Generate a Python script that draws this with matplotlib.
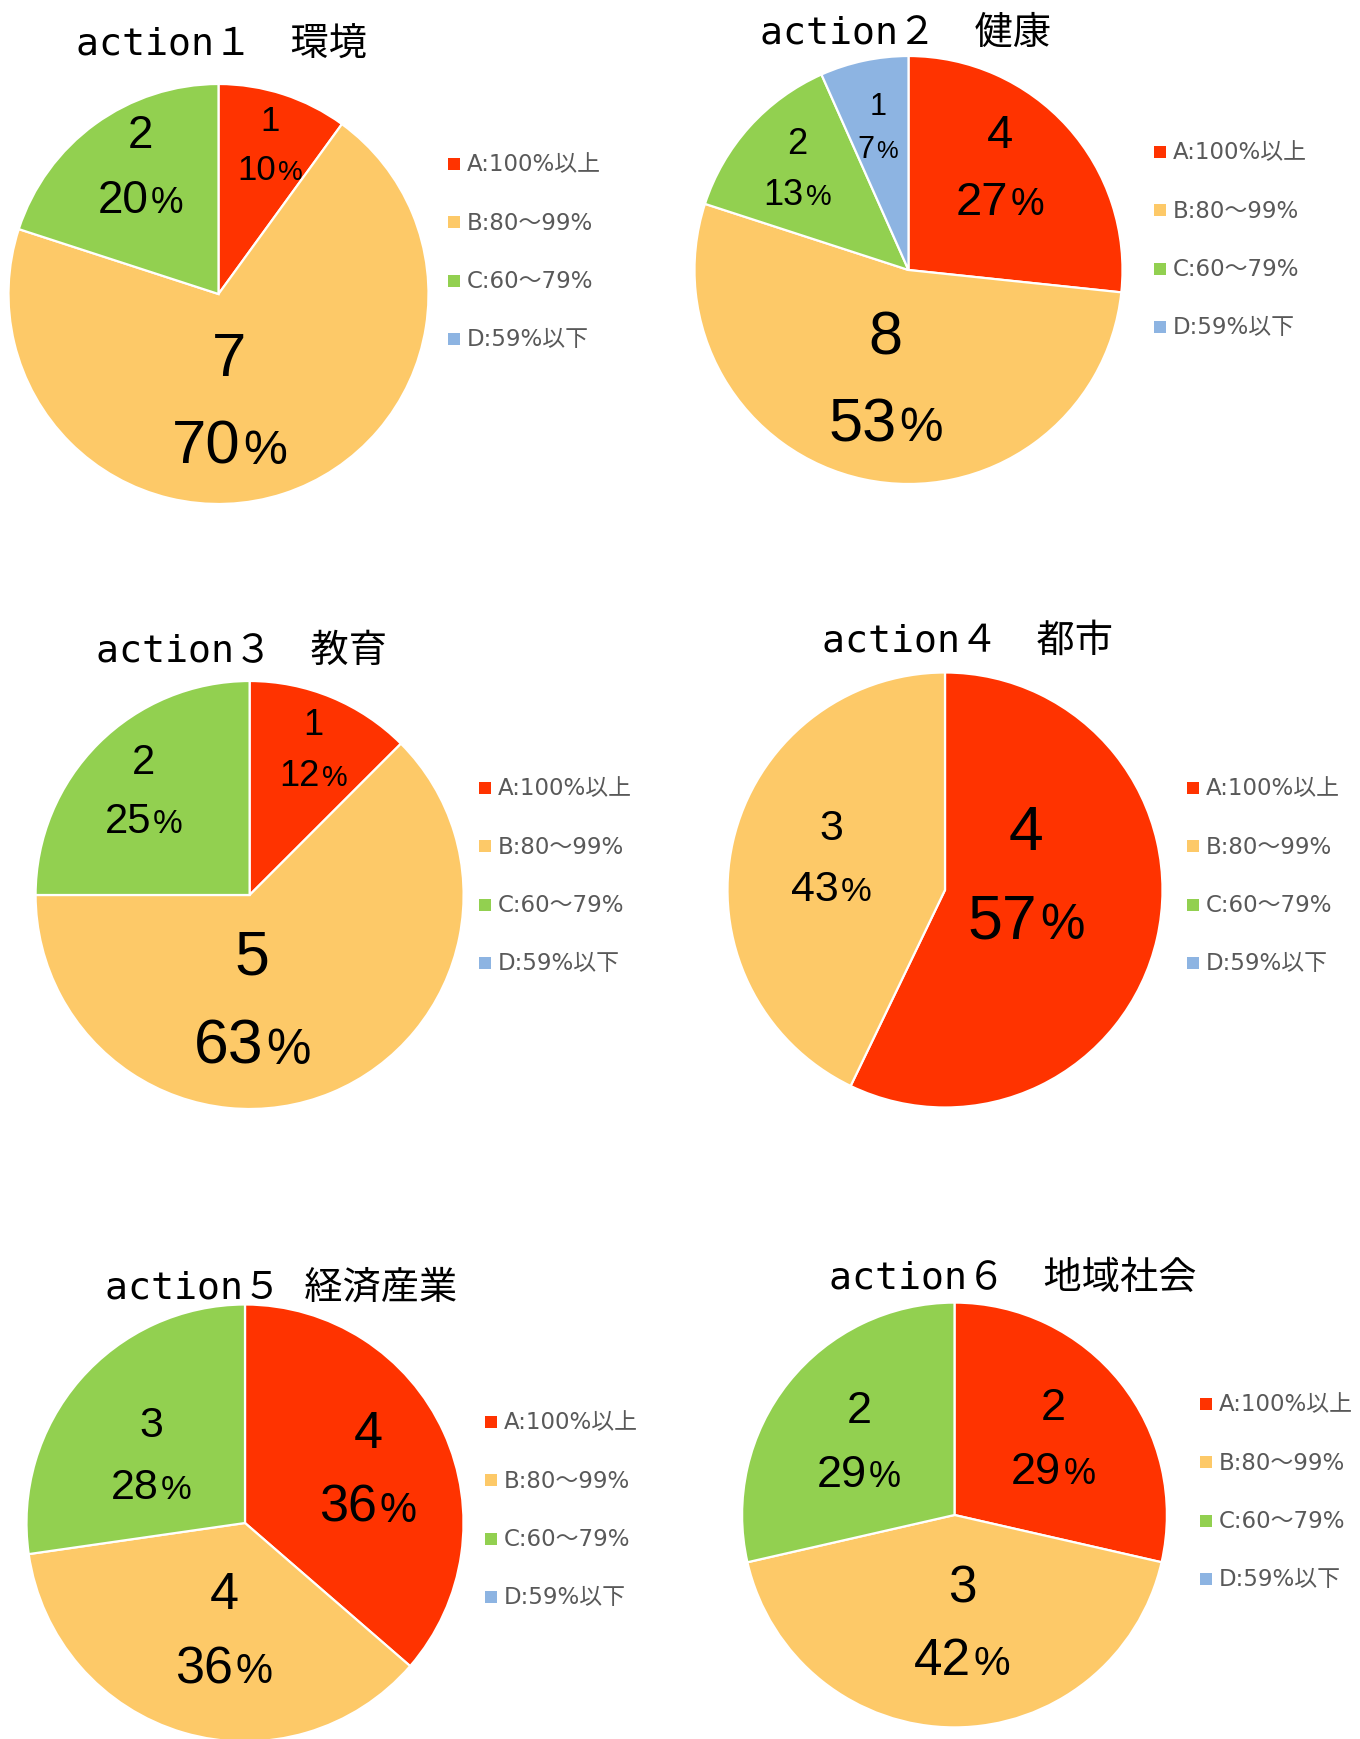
import numpy as np
import matplotlib
matplotlib.use("Agg")
import matplotlib.pyplot as plt
from matplotlib.patches import Rectangle

# ---------------- data ----------------
titles = ["action１　環境", "action２　健康", "action３　教育",
          "action４　都市", "action５ 経済産業", "action６　地域社会"]
categories = ["A:100%以上", "B:80～99%", "C:60～79%", "D:59%以下"]
counts_1 = [1, 7, 2, 0]
counts_2 = [4, 8, 2, 1]
counts_3 = [1, 5, 2, 0]
counts_4 = [4, 3, 0, 0]
counts_5 = [4, 4, 3, 0]
counts_6 = [2, 3, 2, 0]
pct_1 = ["10", "70", "20", ""]
pct_2 = ["27", "53", "13", "7"]
pct_3 = ["12", "63", "25", ""]
pct_4 = ["57", "43", "", ""]
pct_5 = ["36", "36", "28", ""]
pct_6 = ["29", "42", "29", ""]
all_counts = [counts_1, counts_2, counts_3, counts_4, counts_5, counts_6]
all_pcts = [pct_1, pct_2, pct_3, pct_4, pct_5, pct_6]

# ---------------- style / layout ----------------
colors = ["#FF3300", "#FDC968", "#92D050", "#8DB4E2"]
W, H, DPI = 1360, 1740, 100
# pie centre (px), radius (px)
pie_geom = [(218.5, 295, 210), (908.5, 271, 214), (249.6, 896, 214),
            (945, 891, 217.5), (245, 1524, 218.5), (954.5, 1516, 212.4)]
title_pos = [(221, 46), (906, 34), (242, 652), (968, 642), (281, 1289), (1013, 1279)]
legend_pos = [(448, 165), (1154, 153), (479, 789), (1187, 789), (485, 1423), (1200, 1405)]
legend_step = 58.3
# per-label font size (pt), radial fraction, angle shift (deg)
lab_size = [[25, 44.5, 33, 0], [34, 44, 26, 22], [26, 45, 30, 0],
            [45, 31, 0, 0], [37.5, 37.5, 31, 0], [32.5, 37, 32.5, 0]]
lab_rad = [[0.76, 0.50, 0.72, 0], [0.65, 0.51, 0.71, 0.69], [0.75, 0.48, 0.70, 0],
           [0.38, 0.545, 0, 0], [0.62, 0.49, 0.535, 0], [0.595, 0.50, 0.575, 0]]
lab_shift = [[1, 12, 5, 0], [-7, 0, 1, 0], [1, 21, 0, 0],
             [-25, 4, 0, 0], [0, -5, -4, 0], [0, -4, 0, 0]]

LABEL_FONT = ["Liberation Sans", "DejaVu Sans"]
TITLE_FONT = ["DejaVu Sans Mono", "Noto Sans CJK JP"]
LEGEND_FONT = ["DejaVu Sans", "Noto Sans CJK JP"]

fig = plt.figure(figsize=(W / DPI, H / DPI), dpi=DPI)
fig.patch.set_facecolor("white")
renderer = fig.canvas.get_renderer()

for i in range(6):
    cx, cy, r = pie_geom[i]
    ax = fig.add_axes([(cx - r) / W, (H - cy - r) / H, 2 * r / W, 2 * r / H])
    vals = all_counts[i]
    idx = [k for k, v in enumerate(vals) if v > 0]
    ax.pie([vals[k] for k in idx], colors=[colors[k] for k in idx], startangle=90,
           counterclock=False, radius=1,
           wedgeprops=dict(edgecolor="white", linewidth=1.6))
    ax.set_xlim(-1, 1)
    ax.set_ylim(-1, 1)
    ax.set_aspect("equal")
    ax.axis("off")

    total = float(sum(vals))
    cum = 0.0
    for k, v in enumerate(vals):
        if v == 0:
            continue
        mid = (cum + v / 2.0) / total * 360.0
        cum += v
        ang = np.deg2rad(mid + lab_shift[i][k])
        rho = lab_rad[i][k]
        x, y = rho * np.sin(ang), rho * np.cos(ang)
        s = lab_size[i][k]
        gap = 1.42 * s
        capoff = 0.33 * s
        # count line
        ax.annotate(str(v), (x, y), xytext=(0, gap / 2 - capoff), textcoords="offset points",
                    ha="center", va="baseline", fontsize=s, family=LABEL_FONT, color="black")
        # percent line with smaller % sign
        t1 = ax.annotate(all_pcts[i][k], (x, y), xytext=(0, -gap / 2 - capoff),
                         textcoords="offset points", ha="left", va="baseline",
                         fontsize=s, family=LABEL_FONT, color="black")
        t2 = ax.annotate("%", (x, y), xytext=(0, -gap / 2 - capoff),
                         textcoords="offset points", ha="left", va="baseline",
                         fontsize=0.8 * s, family=LABEL_FONT, color="black")
        w1 = t1.get_window_extent(renderer).width * 72.0 / DPI
        w2 = t2.get_window_extent(renderer).width * 72.0 / DPI
        sp = 0.05 * s
        tot = w1 + sp + w2
        t1.xyann = (-tot / 2, -gap / 2 - capoff)
        t2.xyann = (-tot / 2 + w1 + sp, -gap / 2 - capoff)

    # title
    tx, ty = title_pos[i]
    fig.text(tx / W, 1 - ty / H, titles[i], ha="center", va="center",
             fontsize=27.5, family=TITLE_FONT, color="black")

    # legend
    lx, ly = legend_pos[i]
    for k, lab in enumerate(categories):
        yy = ly + k * legend_step
        fig.patches.append(Rectangle((lx / W, 1 - (yy + 6) / H), 12 / W, 12 / H,
                                     transform=fig.transFigure, facecolor=colors[k],
                                     edgecolor="none"))
        fig.text((lx + 19) / W, 1 - yy / H, lab, ha="left", va="center",
                 fontsize=16.5, family=LEGEND_FONT, color="#595959")

fig.savefig("out.png", dpi=DPI, facecolor="white")
